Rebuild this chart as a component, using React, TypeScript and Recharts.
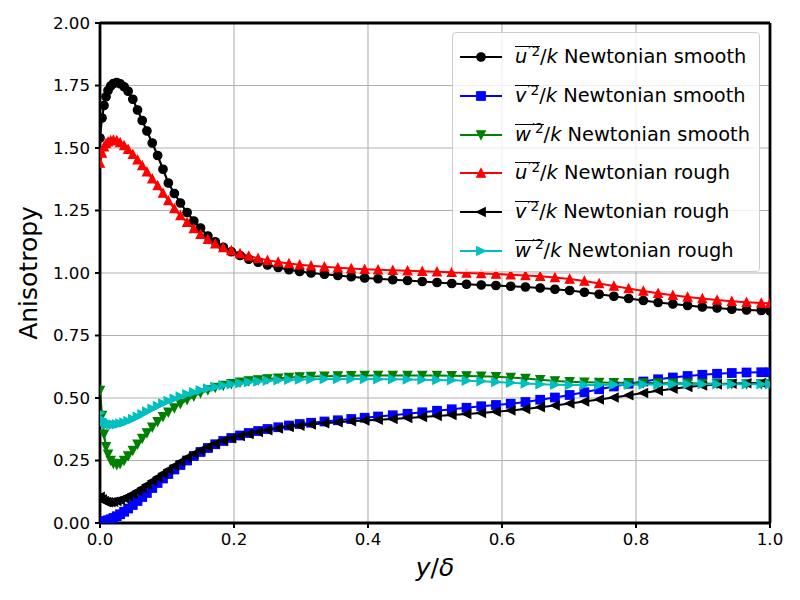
import React from "react"
import {
  LineChart,
  Line,
  XAxis,
  YAxis,
  CartesianGrid,
  Legend,
  ReferenceLine,
} from "recharts"

// wall-normal positions y/delta (shared by every profile)
const yPos = [
  0, 0.003, 0.006, 0.009, 0.012, 0.016, 0.02, 0.025, 0.03, 0.036,
  0.042, 0.049, 0.056, 0.063, 0.07, 0.078, 0.086, 0.094, 0.102, 0.111,
  0.12, 0.13, 0.14, 0.15, 0.161, 0.172, 0.184, 0.196, 0.209, 0.222,
  0.236, 0.25, 0.266, 0.282, 0.298, 0.315, 0.335, 0.355, 0.375, 0.395,
  0.415, 0.437, 0.459, 0.481, 0.503, 0.525, 0.547, 0.569, 0.591, 0.613,
  0.635, 0.657, 0.679, 0.701, 0.723, 0.745, 0.767, 0.789, 0.811, 0.833,
  0.855, 0.877, 0.899, 0.921, 0.943, 0.965, 0.987, 1.0,
]

const uSmooth = [
  1.54, 1.62, 1.67, 1.705, 1.73, 1.748, 1.758, 1.762, 1.757, 1.745,
  1.727, 1.695, 1.652, 1.61, 1.568, 1.52, 1.47, 1.415, 1.36, 1.318,
  1.28, 1.242, 1.208, 1.18, 1.148, 1.125, 1.103, 1.085, 1.07, 1.055,
  1.043, 1.032, 1.022, 1.013, 1.006, 1.0, 0.995, 0.99, 0.985, 0.98,
  0.977, 0.973, 0.97, 0.966, 0.962, 0.958, 0.955, 0.952, 0.95, 0.947,
  0.944, 0.94, 0.935, 0.93, 0.923, 0.915, 0.907, 0.898, 0.89, 0.882,
  0.876, 0.87, 0.864, 0.86, 0.855, 0.852, 0.85, 0.848,
]

const vSmooth = [
  0.0, 0.002, 0.005, 0.008, 0.011, 0.015, 0.02, 0.027, 0.035, 0.045,
  0.058, 0.072, 0.088, 0.104, 0.12, 0.14, 0.16, 0.178, 0.196, 0.214,
  0.232, 0.25, 0.268, 0.284, 0.3, 0.315, 0.328, 0.34, 0.35, 0.36,
  0.368, 0.376, 0.383, 0.39, 0.396, 0.401, 0.406, 0.411, 0.416, 0.421,
  0.426, 0.431, 0.437, 0.443, 0.449, 0.455, 0.461, 0.467, 0.472, 0.477,
  0.484, 0.493, 0.502, 0.512, 0.523, 0.535, 0.546, 0.557, 0.566, 0.575,
  0.582, 0.588, 0.593, 0.597, 0.6, 0.602, 0.603, 0.603,
]

const wSmooth = [
  0.53, 0.43, 0.355, 0.305, 0.275, 0.25, 0.238, 0.233, 0.237, 0.25,
  0.268, 0.29, 0.315, 0.338, 0.36, 0.383, 0.405, 0.425, 0.443, 0.46,
  0.477, 0.493, 0.507, 0.52, 0.532, 0.542, 0.55, 0.557, 0.563, 0.568,
  0.572, 0.576, 0.579, 0.582, 0.584, 0.586, 0.587, 0.588, 0.589, 0.59,
  0.59, 0.59, 0.59, 0.59, 0.59, 0.589, 0.588, 0.587, 0.585, 0.582,
  0.578, 0.573, 0.568, 0.565, 0.563, 0.562, 0.561, 0.561, 0.56, 0.56,
  0.559, 0.559, 0.558, 0.557, 0.557, 0.556, 0.556, 0.556,
]

const uRough = [
  1.44, 1.48, 1.505, 1.518, 1.525, 1.53, 1.532, 1.53, 1.522, 1.51,
  1.495, 1.475, 1.453, 1.43, 1.405, 1.377, 1.35, 1.32, 1.29, 1.258,
  1.23, 1.203, 1.178, 1.155, 1.135, 1.117, 1.102, 1.09, 1.078, 1.068,
  1.059, 1.051, 1.044, 1.038, 1.033, 1.029, 1.025, 1.021, 1.018, 1.015,
  1.013, 1.011, 1.009, 1.007, 1.005, 1.003, 1.0, 0.998, 0.996, 0.993,
  0.99, 0.987, 0.982, 0.976, 0.968, 0.958, 0.948, 0.938, 0.928, 0.919,
  0.911, 0.904, 0.898, 0.892, 0.887, 0.883, 0.88, 0.879,
]

const vRough = [
  0.105, 0.095, 0.088, 0.084, 0.083, 0.083, 0.085, 0.088, 0.092, 0.099,
  0.107, 0.117, 0.128, 0.14, 0.153, 0.168, 0.183, 0.198, 0.213, 0.229,
  0.245, 0.262, 0.277, 0.291, 0.305, 0.318, 0.329, 0.339, 0.348, 0.356,
  0.364, 0.371, 0.378, 0.384, 0.389, 0.394, 0.399, 0.403, 0.407, 0.41,
  0.413, 0.416, 0.42, 0.424, 0.428, 0.432, 0.436, 0.44, 0.445, 0.45,
  0.456, 0.463, 0.47, 0.478, 0.486, 0.494, 0.502, 0.511, 0.52, 0.529,
  0.537, 0.544, 0.55, 0.554, 0.557, 0.559, 0.56, 0.56,
]

const wRough = [
  0.44, 0.415, 0.405, 0.399, 0.396, 0.394, 0.394, 0.395, 0.398, 0.402,
  0.408, 0.416, 0.425, 0.435, 0.446, 0.457, 0.468, 0.478, 0.488, 0.497,
  0.506, 0.515, 0.523, 0.531, 0.538, 0.544, 0.55, 0.555, 0.559, 0.563,
  0.566, 0.569, 0.571, 0.573, 0.574, 0.575, 0.576, 0.576, 0.576, 0.576,
  0.575, 0.575, 0.574, 0.573, 0.572, 0.571, 0.569, 0.567, 0.564, 0.561,
  0.558, 0.555, 0.553, 0.552, 0.552, 0.552, 0.553, 0.553, 0.554, 0.554,
  0.555, 0.555, 0.555, 0.555, 0.555, 0.555, 0.555, 0.555,
]

const xTicks = [0, 0.2, 0.4, 0.6, 0.8, 1.0]
const yTicks = [0, 0.25, 0.5, 0.75, 1.0, 1.25, 1.5, 1.75, 2.0]

type Shape = "circle" | "square" | "down" | "up" | "left" | "right"

const SERIES: { key: string; comp: string; kind: string; color: string; shape: Shape }[] = [
  { key: "uS", comp: "u", kind: "smooth", color: "#000000", shape: "circle" },
  { key: "vS", comp: "v", kind: "smooth", color: "#0000ff", shape: "square" },
  { key: "wS", comp: "w", kind: "smooth", color: "#008000", shape: "down" },
  { key: "uR", comp: "u", kind: "rough", color: "#ff0000", shape: "up" },
  { key: "vR", comp: "v", kind: "rough", color: "#000000", shape: "left" },
  { key: "wR", comp: "w", kind: "rough", color: "#00bfbf", shape: "right" },
]

const rows = yPos.map((y, i) => ({
  y,
  uS: uSmooth[i],
  vS: vSmooth[i],
  wS: wSmooth[i],
  uR: uRough[i],
  vR: vRough[i],
  wR: wRough[i],
}))

const FONT = "DejaVu Sans"

function Glyph({ cx, cy, shape, color }: { cx: number; cy: number; shape: Shape; color: string }) {
  const s = 4.17
  const common = { fill: color, stroke: color, strokeWidth: 1.4, strokeLinejoin: "miter" as const }
  if (shape === "circle") return <circle cx={cx} cy={cy} r={s} {...common} />
  if (shape === "square") return <rect x={cx - s} y={cy - s} width={2 * s} height={2 * s} {...common} />
  let pts = ""
  if (shape === "up") pts = `${cx},${cy - s} ${cx - s},${cy + s} ${cx + s},${cy + s}`
  if (shape === "down") pts = `${cx},${cy + s} ${cx - s},${cy - s} ${cx + s},${cy - s}`
  if (shape === "left") pts = `${cx - s},${cy} ${cx + s},${cy - s} ${cx + s},${cy + s}`
  if (shape === "right") pts = `${cx + s},${cy} ${cx - s},${cy - s} ${cx - s},${cy + s}`
  return <polygon points={pts} {...common} />
}

// legend keeps the plotting order, not recharts' sorted payload
function LegendBox() {
  return (
    <div
      style={{
        boxSizing: "border-box",
        width: 308,
        height: 240,
        paddingTop: 5,
        background: "rgba(255,255,255,0.8)",
        border: "1px solid #cccccc",
        borderRadius: 4,
        fontFamily: FONT,
        fontSize: 19.4,
        color: "#000",
      }}
    >
      {SERIES.map((s) => (
        <div key={s.key} style={{ height: 38.7, display: "flex", alignItems: "center" }}>
          <svg width={62} height={20} style={{ flex: "none" }}>
            <line x1={7} x2={49} y1={10} y2={10} stroke={s.color} strokeWidth={2.1} />
            <Glyph cx={28} cy={10} shape={s.shape} color={s.color} />
          </svg>
          <span style={{ whiteSpace: "nowrap", lineHeight: "20px" }}>
            <span
              style={{
                display: "inline-block",
                borderTop: "1.3px solid #000",
                lineHeight: "18px",
                paddingTop: 1,
                marginTop: -4,
              }}
            >
              <i>{s.comp}</i>
              <span style={{ position: "relative", top: "-0.55em", fontSize: "0.7em", marginLeft: 1 }}>′2</span>
            </span>
            /<i>k</i> Newtonian {s.kind}
          </span>
        </div>
      ))}
    </div>
  )
}

function XLabel({ viewBox }: any) {
  const cx = viewBox.x + viewBox.width / 2
  return (
    <text x={cx} y={576} textAnchor="middle" fontFamily={FONT} fontSize={25} fill="#000">
      <tspan fontStyle="italic">y</tspan>
      <tspan>/</tspan>
      <tspan fontStyle="italic">δ</tspan>
    </text>
  )
}

function YLabel({ viewBox }: any) {
  const cy = viewBox.y + viewBox.height / 2
  return (
    <text
      x={28}
      y={cy}
      transform={`rotate(-90, 28, ${cy})`}
      textAnchor="middle"
      dominantBaseline="central"
      fontFamily={FONT}
      fontSize={25}
      fill="#000"
    >
      Anisotropy
    </text>
  )
}

function XTick({ x, y, payload }: any) {
  return (
    <g>
      <line x1={x} x2={x} y1={523} y2={528} stroke="#000" strokeWidth={2} />
      <text x={x} y={y} dy="0.71em" textAnchor="middle" fontFamily={FONT} fontSize={16.67} fill="#000">
        {Number(payload.value).toFixed(1)}
      </text>
    </g>
  )
}

function YTick({ y, payload }: any) {
  return (
    <g>
      <line x1={95} x2={100} y1={y} y2={y} stroke="#000" strokeWidth={2} />
      <text x={90} y={y} dy="0.355em" textAnchor="end" fontFamily={FONT} fontSize={16.67} fill="#000">
        {Number(payload.value).toFixed(2)}
      </text>
    </g>
  )
}

const spine = { stroke: "#000", strokeWidth: 2.8 }

export default function App() {
  return (
    <div style={{ position: "absolute", left: 0, top: 0, width: 800, height: 600, background: "#fff" }}>
      <LineChart width={800} height={600} data={rows} margin={{ top: 23, right: 30, bottom: 0, left: 0 }}>
        <CartesianGrid
          stroke="#b0b0b0"
          strokeWidth={1.1}
          verticalValues={[0.2, 0.4, 0.6, 0.8]}
          horizontalValues={[0.25, 0.5, 0.75, 1.0, 1.25, 1.5, 1.75]}
        />
        <XAxis
          type="number"
          dataKey="y"
          domain={[0, 1]}
          ticks={xTicks}
          allowDataOverflow
          tick={<XTick />}
          tickSize={5}
          tickMargin={5}
          tickLine={false}
          axisLine={false}
          height={77}
          label={<XLabel />}
        />
        <YAxis
          type="number"
          domain={[0, 2]}
          ticks={yTicks}
          allowDataOverflow
          tick={<YTick />}
          tickSize={5}
          tickMargin={5}
          tickLine={false}
          axisLine={false}
          width={100}
          label={<YLabel />}
        />
        <Legend
          layout="vertical"
          align="center"
          verticalAlign="middle"
          content={<LegendBox />}
          wrapperStyle={{ position: "absolute", left: 452, top: 32, width: 308, height: 240 }}
        />
        {SERIES.map((s) => (
          <Line
            key={s.key}
            dataKey={s.key}
            stroke={s.color}
            strokeWidth={2.1}
            isAnimationActive={false}
            activeDot={false}
            dot={(p: any) => (
              <Glyph key={`${s.key}-${p.index}`} cx={p.cx} cy={p.cy} shape={s.shape} color={s.color} />
            )}
          />
        ))}
        <ReferenceLine x={0} {...spine} />
        <ReferenceLine x={1} {...spine} />
        <ReferenceLine y={0} {...spine} />
        <ReferenceLine y={2} {...spine} />
      </LineChart>
    </div>
  )
}
